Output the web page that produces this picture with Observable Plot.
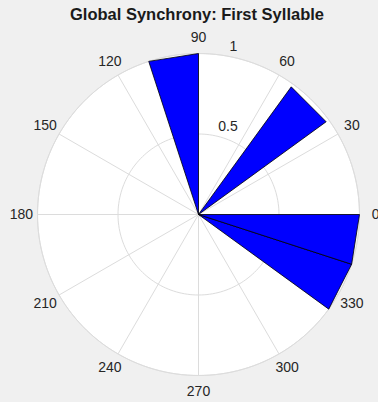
<!DOCTYPE html>
<html>
<head>
<meta charset="utf-8">
<script src="https://cdn.jsdelivr.net/npm/d3@7"></script>
<script src="https://cdn.jsdelivr.net/npm/@observablehq/plot@0.6"></script>
<style>
  html, body { margin: 0; padding: 0; background: #f0f0f0; }
  #wrap { width: 378px; height: 402px; overflow: hidden; background: #f0f0f0; }
  #title { height: 28px; line-height: 29px; text-align: center; font-family: "Liberation Sans", Arial, Helvetica, sans-serif; font-weight: bold; font-size: 16.5px; color: #1a1a1a; padding-left: 16px; box-sizing: border-box; white-space: nowrap; }
</style>
</head>
<body>
<div id="wrap">
  <div id="title"></div>
  <div id="chart"></div>
</div>
<script>
// ---- data ----
const title = "Global Synchrony: First Syllable";
const binWidthDeg = 18;                       // 20 bins around the circle
const binStartDeg = [0, 18, 36, 54, 72, 90, 108, 126, 144, 162, 180, 198, 216, 234, 252, 270, 288, 306, 324, 342];
const binValues   = [0, 0, 0.98, 0, 0, 1, 0, 0, 0, 0, 0, 0, 0, 0, 0, 0, 0, 0, 1, 1];
const angleTicks      = [0, 30, 60, 90, 120, 150, 180, 210, 240, 270, 300, 330];
const angleTickLabels = ["0", "30", "60", "90", "120", "150", "180", "210", "240", "270", "300", "330"];
const rTicks      = [0.5, 1];
const rTickLabels = ["0.5", "1"];
const rMax = 1;

// ---- derived geometry ----
const rad = d => d * Math.PI / 180;
const circle = (r, id) => d3.range(0, 361, 2).map(a => ({x: r * Math.cos(rad(a)), y: r * Math.sin(rad(a)), id}));

const disk = circle(rMax, "disk");
const gridCircles = rTicks.flatMap(r => circle(r, "c" + r));
const spokes = angleTicks.map(a => ({x1: 0, y1: 0, x2: rMax * Math.cos(rad(a)), y2: rMax * Math.sin(rad(a))}));
const wedges = binStartDeg.flatMap((a0, i) => {
  const v = binValues[i];
  if (!(v > 0)) return [];
  const a1 = a0 + binWidthDeg;
  return [
    {x: 0, y: 0, bin: i},
    {x: v * Math.cos(rad(a0)), y: v * Math.sin(rad(a0)), bin: i},
    {x: v * Math.cos(rad(a1)), y: v * Math.sin(rad(a1)), bin: i},
    {x: 0, y: 0, bin: i}
  ];
});
const angleLabels = angleTicks.map((a, i) => ({x: 1.1 * rMax * Math.cos(rad(a)), y: 1.1 * rMax * Math.sin(rad(a)), t: angleTickLabels[i]}));
const rinc = rTicks[0];
const rLabels = rTicks.map((r, i) => ({x: (r + rinc / 20) * Math.cos(rad(82)), y: (r + rinc / 20) * Math.sin(rad(82)), t: rTickLabels[i]}));

document.getElementById("title").textContent = title;

const font = '"Liberation Sans", Arial, Helvetica, sans-serif';
const chart = Plot.plot({
  width: 378,
  height: 374,
  margin: 0,
  style: {background: "#f0f0f0", fontFamily: font, overflow: "visible"},
  x: {domain: [-1, 1], range: [37, 359], axis: null},
  y: {domain: [-1, 1], range: [347, 25], axis: null},
  marks: [
    Plot.line(disk, {x: "x", y: "y", fill: "white", stroke: "#e2e2e2", strokeWidth: 1, curve: "linear"}),
    Plot.line(gridCircles, {x: "x", y: "y", z: "id", stroke: "#dcdcdc", strokeWidth: 1, curve: "linear"}),
    Plot.link(spokes, {x1: "x1", y1: "y1", x2: "x2", y2: "y2", stroke: "#dcdcdc", strokeWidth: 1}),
    Plot.line(wedges, {x: "x", y: "y", z: "bin", fill: "#0000ff", stroke: "#000000", strokeWidth: 0.8, curve: "linear"}),
    Plot.text(angleLabels, {x: "x", y: "y", text: "t", fontSize: 14, fill: "#262626", textAnchor: "middle"}),
    Plot.text(rLabels, {x: "x", y: "y", text: "t", fontSize: 14, fill: "#262626", textAnchor: "start", lineAnchor: "bottom", dx: 8})
  ]
});
document.getElementById("chart").appendChild(chart);
</script>
</body>
</html>
